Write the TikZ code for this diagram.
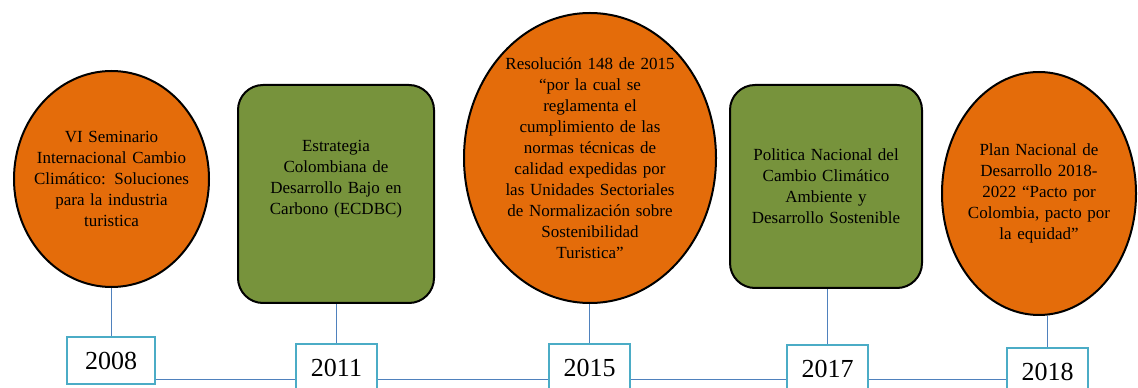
\documentclass[tikz,border=0pt]{standalone}
\usepackage{fontspec}
\setmainfont{Liberation Serif}
\usetikzlibrary{shapes.geometric}
\definecolor{evtorange}{HTML}{E46C0A}
\definecolor{evtgreen}{HTML}{77933C}
\definecolor{yearframe}{HTML}{4BACC6}
\definecolor{linkblue}{HTML}{4F81BD}

\begin{document}
\begin{tikzpicture}[x=1pt,y=1pt,
  oval/.style={ellipse,draw,line width=2pt,fill=evtorange,inner sep=-25pt,text width=180pt,align=center,font=\fontsize{17}{21}\selectfont},
  box/.style={draw,line width=2pt,rounded corners=25pt,fill=evtgreen,inner sep=0pt,text width=180pt,align=center,font=\fontsize{17}{21}\selectfont},
  year/.style={draw=yearframe,line width=2.5pt,fill=white,minimum width=81pt,minimum height=47pt,inner sep=0pt,font=\fontsize{26}{30}\selectfont},
  link/.style={draw=linkblue,line width=0.9pt}]
\useasboundingbox (0,0) rectangle (1138,388);
% events
\node[oval,minimum width=195pt,minimum height=216pt] (a) at (111.5,209) {VI Seminario\\Internacional Cambio\\Climático: Soluciones\\para la industria\\turistica};
\node[box,minimum width=196pt,minimum height=218pt] (b) at (336,194) {Estrategia\\Colombiana de\\Desarrollo Bajo en\\Carbono (ECDBC)\\[12pt]\mbox{}};
\node[oval,minimum width=252pt,minimum height=290pt] (c) at (590,230) {Resolución 148 de 2015\\“por la cual se\\reglamenta el\\cumplimiento de las\\normas técnicas de\\calidad expedidas por\\las Unidades Sectoriales\\de Normalización sobre\\Sostenibilidad\\Turistica”};
\node[box,minimum width=192pt,minimum height=203pt] (d) at (826,201.5) {Politica Nacional del\\Cambio Climático\\Ambiente y\\Desarrollo Sostenible};
\node[oval,minimum width=194pt,minimum height=243pt] (e) at (1039,194.5) {Plan Nacional de\\Desarrollo 2018-\\2022 “Pacto por\\Colombia, pacto por\\la equidad”};
% years
\node[year,minimum width=88pt] (y1) at (111,27.5) {2008};
\node[year] (y2) at (336.5,20.5) {2011};
\node[year] (y3) at (589.5,20.5) {2015};
\node[year] (y4) at (827.5,19.5) {2017};
\node[year] (y5) at (1047.5,16.5) {2018};
\coordinate (h) at (0,9);
\draw[link] (y1.north) -- (y1.north |- a.south);
\draw[link] (y2.north) -- (y2.north |- b.south);
\draw[link] (y3.north) -- (y3.north |- c.south);
\draw[link] (y4.north) -- (y4.north |- d.south);
\draw[link] (y5.north) -- (y5.north |- e.south);
\draw[link] (y1.east |- h) -- (y2.west |- h);
\draw[link] (y2.east |- h) -- (y3.west |- h);
\draw[link] (y3.east |- h) -- (y4.west |- h);
\draw[link] (y4.east |- h) -- (y5.west |- h);
\end{tikzpicture}
\end{document}
